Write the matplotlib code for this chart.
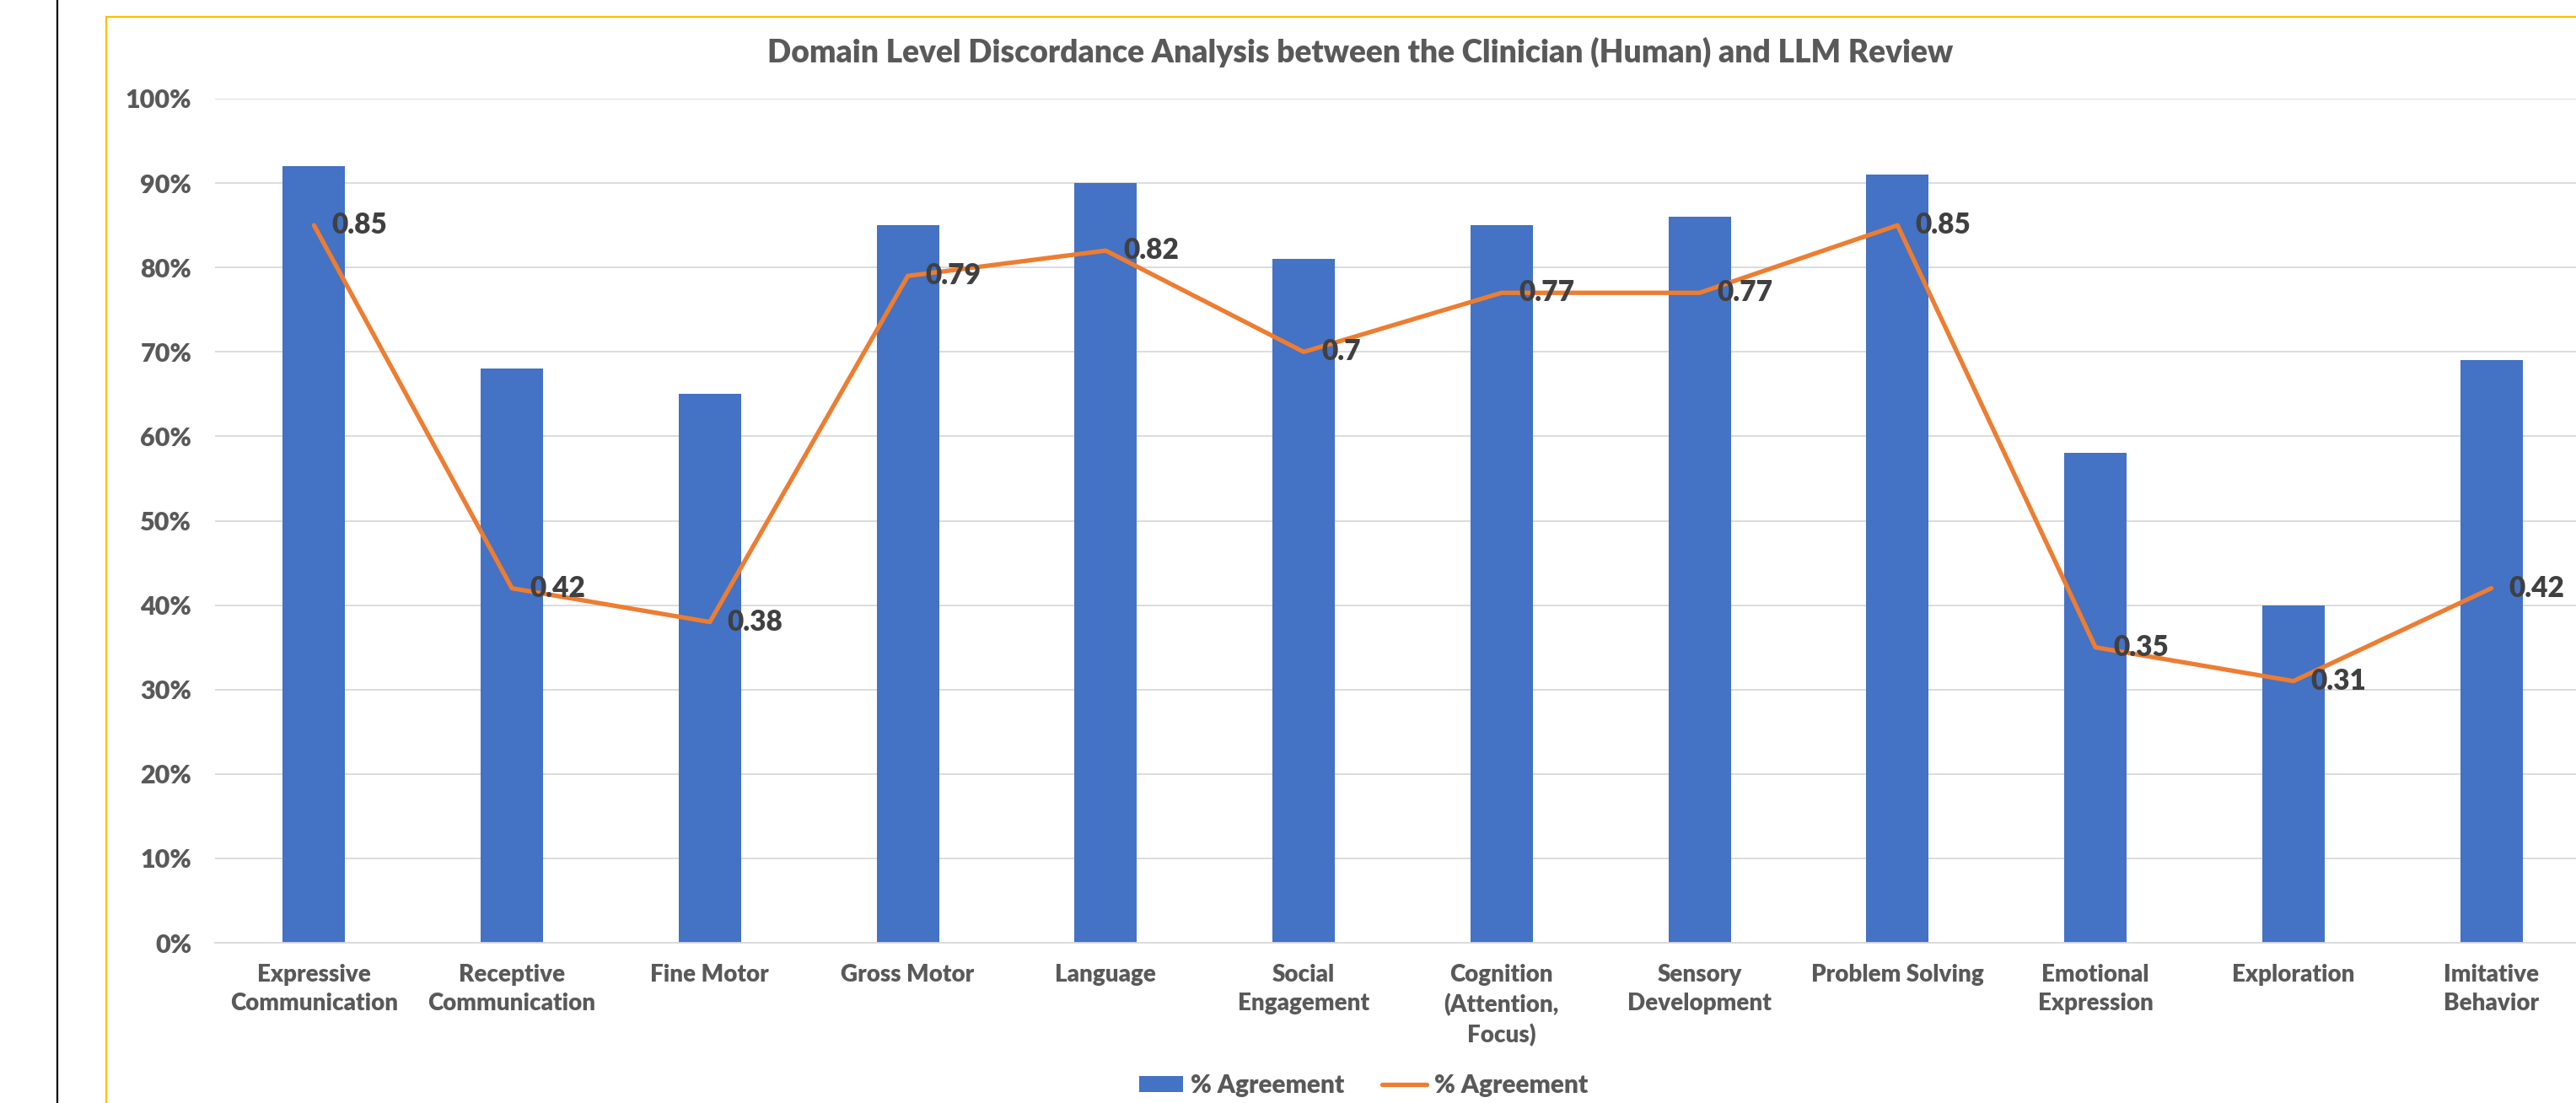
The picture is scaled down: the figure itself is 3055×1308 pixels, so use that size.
import matplotlib.pyplot as plt
from matplotlib.patches import Rectangle
from matplotlib.lines import Line2D
from matplotlib.ticker import FuncFormatter

plt.rcParams['font.family'] = ['Lato', 'DejaVu Sans']

domains = [
    'Expressive\nCommunication', 'Receptive\nCommunication', 'Fine Motor', 'Gross Motor',
    'Language', 'Social\nEngagement', 'Cognition\n(Attention,\nFocus)', 'Sensory\nDevelopment',
    'Problem Solving', 'Emotional\nExpression', 'Exploration', 'Imitative\nBehavior',
]
bar_agreement = [92, 68, 65, 85, 90, 81, 85, 86, 91, 58, 40, 69]
line_agreement = [0.85, 0.42, 0.38, 0.79, 0.82, 0.7, 0.77, 0.77, 0.85, 0.35, 0.31, 0.42]
line_labels = ['0.85', '0.42', '0.38', '0.79', '0.82', '0.7', '0.77', '0.77', '0.85', '0.35', '0.31', '0.42']

blue = '#4472C4'
orange = '#ED7D31'
grey_txt = '#595959'
grid_c = '#D9D9D9'
wt = 'heavy'

W, H = 3055, 1308
fig = plt.figure(figsize=(W / 100, H / 100), dpi=100)

# black rule at left and yellow chart-area border
fig.add_artist(Line2D([68 / W, 68 / W], [0, 1], color='black', lw=1.6, transform=fig.transFigure))
fig.add_artist(Rectangle((126 / W, -0.05), 1.0, 1 - 20 / H + 0.05, transform=fig.transFigure,
                         fill=False, edgecolor='#FFC000', lw=1.6))

ax = fig.add_axes([255 / W, 190 / H, (3072 - 255) / W, (1118 - 117) / H])
x = list(range(len(domains)))

bars = ax.bar(x, bar_agreement, width=0.315, color=blue, zorder=2)
line_pct = [v * 100 for v in line_agreement]
ln, = ax.plot(x, line_pct, color=orange, lw=3.8, solid_capstyle='round', solid_joinstyle='round',
              zorder=3)
for xi, yi, lab in zip(x, line_pct, line_labels):
    ax.annotate(lab, (xi, yi), xytext=(15, 0), textcoords='offset points', ha='left', va='center',
                fontsize=24, fontweight=wt, color='#404040', zorder=4)

ax.set_xlim(-0.5, len(domains) - 0.5)
ax.set_ylim(0, 100)
ax.set_yticks(range(0, 101, 10))
ax.yaxis.set_major_formatter(FuncFormatter(lambda v, p: f'{int(v)}%'))
ax.set_xticks(x)
ax.set_xticklabels(domains, multialignment='center', linespacing=1.4)
ax.tick_params(axis='both', length=0, labelsize=20, labelcolor=grey_txt)
ax.tick_params(axis='y', pad=20, labelsize=22)
ax.tick_params(axis='x', pad=18)
for lab in ax.get_xticklabels() + ax.get_yticklabels():
    lab.set_fontweight(wt)

ax.grid(axis='y', color=grid_c, lw=1.3, zorder=0)
ax.set_axisbelow(True)
for s in ['top', 'right', 'left']:
    ax.spines[s].set_visible(False)
ax.spines['bottom'].set_color(grid_c)
ax.spines['bottom'].set_linewidth(1.3)

fig.text(1613 / W, 1 - 62 / H, 'Domain Level Discordance Analysis between the Clinician (Human) and LLM Review',
         ha='center', va='center', fontsize=26.7, fontweight=wt, color=grey_txt)

fig.legend([bars, ln], ['% Agreement', '% Agreement'], loc='center', bbox_to_anchor=(1617 / W, 1 - 1287 / H),
           ncol=2, frameon=False, prop={'size': 21.5, 'weight': wt}, labelcolor=grey_txt,
           handlelength=1.75, handleheight=0.6, handletextpad=0.3, columnspacing=1.5)

fig.savefig('out.png', dpi=100)
